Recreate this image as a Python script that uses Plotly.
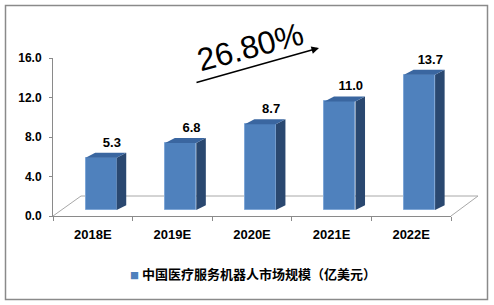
import plotly.graph_objects as go

categories = ["2018E", "2019E", "2020E", "2021E", "2022E"]
values = [5.3, 6.8, 8.7, 11.0, 13.7]
y_ticks = [0, 4, 8, 12, 16]
series_name = "中国医疗服务机器人市场规模（亿美元）"
cagr_text = "26.80%"

W, H = 494, 305
ML, MR, MT, MB = 53, 43, 58, 89
PW, PH = W - ML - MR, H - MT - MB

def px(xp):
    return (xp - ML) / PW

def py(yp):
    return (H - MB - yp) / PH

FRONT = "#4F81BD"
SIDE = "#2A4870"
TOP = "#3A66A0"

base = 0.6      # 3D lift of the bar's front face (data units)
depth_x = 0.12  # 3D depth offset (category units)
depth_y = 0.5   # 3D depth offset (data units)
f_left, f_right = -0.09, 0.30

idx = list(range(len(categories)))
fig = go.Figure()

# front faces
fig.add_trace(go.Bar(
    x=[i + (f_left + f_right) / 2 for i in idx], y=values, base=base,
    width=f_right - f_left, marker=dict(color=FRONT, line=dict(color="#7EA6D6", width=1)),
    showlegend=False, hoverinfo="skip"))

# side and top faces
for i, v in zip(idx, values):
    xr = i + f_right
    xl = i + f_left
    top = v + base
    fig.add_trace(go.Scatter(
        x=[xr, xr, xr + depth_x, xr + depth_x, xr],
        y=[base, top, top + depth_y, base + depth_y, base],
        fill="toself", fillcolor=SIDE, mode="lines", line=dict(width=0),
        showlegend=False, hoverinfo="skip"))
    fig.add_trace(go.Scatter(
        x=[xl, xr, xr + depth_x, xl + depth_x, xl],
        y=[top, top, top + depth_y, top + depth_y, top],
        fill="toself", fillcolor=TOP, mode="lines", line=dict(width=0),
        showlegend=False, hoverinfo="skip"))

# data labels
fig.add_trace(go.Scatter(
    x=[i + 0.24 for i in idx], y=[v + base + depth_y + 0.95 for v in values],
    mode="text", text=[f"{v:.1f}" for v in values], textposition="middle center",
    textfont=dict(family="Liberation Sans", size=13, color="black", weight="bold"),
    showlegend=False, hoverinfo="skip", cliponaxis=False))

# legend entry (small coloured square drawn inside the legend text)
fig.add_trace(go.Scatter(
    x=[None], y=[None], mode="markers",
    name=f"<span style='color:{FRONT};font-size:9px'>■</span> {series_name}",
    marker=dict(symbol="square", size=6, color="rgba(0,0,0,0)")))

shapes = []
# outer border
shapes.append(dict(type="rect", xref="paper", yref="paper",
                   x0=px(5.5), x1=px(487.5), y0=py(299.5), y1=py(5.5),
                   line=dict(color="#8A8A8A", width=1.5), layer="below"))
# floor
shapes.append(dict(type="path", xref="paper", yref="paper",
                   path=f"M {px(53)} {py(216)} L {px(81)} {py(196)} L {px(478)} {py(196)} L {px(451)} {py(216)}",
                   line=dict(color="#A8A8A8", width=1), layer="below"))

annotations = [
    dict(xref="paper", yref="paper", x=px(250), y=py(47), text=cagr_text,
         showarrow=False, textangle=-15, xanchor="center", yanchor="middle",
         font=dict(family="Liberation Sans", size=32, color="black")),
    dict(xref="paper", yref="paper", x=px(319), y=py(48), text="",
         showarrow=True, ax=195 - 319, ay=83 - 48, arrowhead=2, arrowsize=1,
         arrowwidth=1.5, arrowcolor="black", standoff=0),
]

fig.update_layout(
    width=W, height=H, margin=dict(l=ML, r=MR, t=MT, b=MB),
    paper_bgcolor="white", plot_bgcolor="white",
    shapes=shapes, annotations=annotations, bargap=0,
    xaxis=dict(range=[-0.5, 4.5], tickvals=idx, ticktext=categories, ticks="",
               showline=True, linecolor="#8A8A8A", linewidth=1, showgrid=False,
               zeroline=False, ticklabelstandoff=6,
               tickfont=dict(family="Liberation Sans", size=13, color="black", weight="bold"),
               minor=dict(tickvals=[-0.5, 0.5, 1.5, 2.5, 3.5, 4.5], ticks="outside",
                          ticklen=4, tickcolor="#8A8A8A", showgrid=False)),
    yaxis=dict(range=[0, 16], tickvals=y_ticks, ticktext=[f"{t:.1f}" for t in y_ticks],
               ticks="outside", ticklen=3, tickcolor="#8A8A8A",
               showline=True, linecolor="#8A8A8A", linewidth=1, showgrid=False,
               zeroline=False, ticklabelstandoff=5,
               tickfont=dict(family="Liberation Sans", size=12, color="black", weight="bold")),
    legend=dict(orientation="h", x=px(90), y=py(274), xanchor="left", yanchor="middle",
                font=dict(family="Noto Sans CJK SC", size=13, color="black", weight="bold"),
                bgcolor="rgba(0,0,0,0)"),
)

fig.write_html("out.html")
